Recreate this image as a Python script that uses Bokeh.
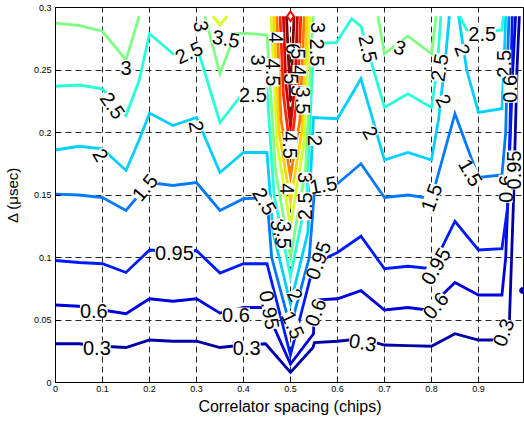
import math
from bokeh.plotting import figure
from bokeh.models import Range1d, FixedTicker, ColumnDataSource
from bokeh.embed import file_html
from bokeh.resources import INLINE
from bokeh.core.properties import value

NaN = float("nan")

# ---- data ----
x_ticks = [0, 0.1, 0.2, 0.3, 0.4, 0.5, 0.6, 0.7, 0.8, 0.9]
x_tick_labels = ["0", "0.1", "0.2", "0.3", "0.4", "0.5", "0.6", "0.7", "0.8", "0.9"]
y_ticks = [0, 0.05, 0.1, 0.15, 0.2, 0.25, 0.3]
y_tick_labels = ["0", "0.05", "0.1", "0.15", "0.2", "0.25", "0.3"]

levels = [0.3, 0.6, 0.95, 1.5, 2, 2.5, 3, 3.5, 4, 4.5, 5, 5.5, 6]

c03_x = [0, 0.05, 0.1, 0.15, 0.2, 0.25, 0.3, 0.35, 0.4, 0.447, 0.5, 0.548, 0.551, 0.6, 0.65, 0.7, 0.75, 0.8, 0.85, 0.9, 0.95, 0.966, 0.975, 0.982, 0.987]
c03_y = [0.031, 0.031, 0.029, 0.028, 0.034, 0.033, 0.033, 0.028, 0.030, 0.031, 0.008, 0.028, 0.032, 0.033, 0.035, 0.030, 0.0295, 0.029, 0.039, 0.034, 0.034, 0.05, 0.15, 0.25, 0.293]

c06_x = [0, 0.05, 0.1, 0.15, 0.2, 0.25, 0.3, 0.35, 0.4, 0.446, 0.5, 0.549, 0.551, 0.6, 0.65, 0.7, 0.75, 0.79, 0.85, 0.9, 0.95, 0.958, 0.966, 0.973, 0.979]
c06_y = [0.062, 0.061, 0.058, 0.055, 0.067, 0.065, 0.067, 0.0555, 0.060, 0.060, 0.0147, 0.039, 0.066, 0.067, 0.0735, 0.058, 0.060, 0.058, 0.080, 0.070, 0.070, 0.10, 0.18, 0.25, 0.293]

c095_x = [0, 0.05, 0.1, 0.15, 0.2, 0.25, 0.3, 0.35, 0.4, 0.45, 0.5, 0.55, 0.6, 0.65, 0.7, 0.75, 0.8, 0.85, 0.9, 0.95, 0.962, 0.967, 0.970, 0.972]
c095_y = [0.0976, 0.096, 0.095, 0.088, 0.106, 0.105, 0.1056, 0.0875, 0.095, 0.095, 0.022, 0.095, 0.104, 0.117, 0.091, 0.093, 0.091, 0.129, 0.106, 0.107, 0.14, 0.2, 0.26, 0.293]

c15_x = [0, 0.05, 0.1, 0.15, 0.2, 0.25, 0.3, 0.35, 0.4, 0.45, 0.46, 0.5, 0.54, 0.552, 0.6, 0.65, 0.7, 0.75, 0.8, 0.85, 0.9, 0.95, 0.958, 0.962, 0.965]
c15_y = [0.1507, 0.150, 0.148, 0.1376, 0.160, 0.1576, 0.160, 0.1376, 0.147, 0.148, 0.10, 0.044, 0.10, 0.158, 0.159, 0.175, 0.148, 0.150, 0.147, 0.215, 0.164, 0.166, 0.2, 0.26, 0.293]

c2_x = [0, 0.05, 0.1, 0.15, 0.178, 0.2, 0.25, 0.3, 0.35, 0.4, 0.45, 0.463, 0.5, 0.537, 0.549, 0.6, 0.65, 0.7, 0.75, 0.8, 0.815, 0.83, 0.838, NaN, 0.858, 0.875, 0.9, 0.95, 0.955, 0.958]
c2_y = [0.186, 0.189, 0.187, 0.1696, 0.194, 0.2155, 0.2056, 0.212, 0.168, 0.184, 0.184, 0.12, 0.063, 0.12, 0.212, 0.211, 0.243, 0.178, 0.184, 0.178, 0.21, 0.26, 0.293, NaN, 0.293, 0.25, 0.216, 0.219, 0.26, 0.293]

c25_x = [0, 0.05, 0.1, 0.15, 0.178, 0.2, 0.25, 0.3, 0.35, 0.4, 0.45, 0.465, 0.5, 0.535, 0.549, 0.598, 0.63, 0.65, 0.7, 0.75, 0.8, 0.812, 0.82, NaN, 0.86, 0.875, 0.9, 0.95, 0.953]
c25_y = [0.237, 0.238, 0.235, 0.2136, 0.2416, 0.279, 0.263, 0.27, 0.208, 0.232, 0.235, 0.15, 0.085, 0.15, 0.271, 0.272, 0.291, 0.285, 0.22, 0.231, 0.22, 0.25, 0.293, NaN, 0.293, 0.282, 0.28, 0.282, 0.293]

c3_x = [0, 0.05, 0.1, 0.15, 0.178, NaN, 0.318, 0.35, 0.382, 0.4, 0.45, 0.468, 0.5, 0.532, 0.548, NaN, 0.686, 0.7, 0.75, 0.8, 0.81]
c3_y = [0.2875, 0.2856, 0.281, 0.258, 0.293, NaN, 0.293, 0.247, 0.279, 0.2795, 0.278, 0.17, 0.10, 0.17, 0.293, NaN, 0.293, 0.263, 0.277, 0.263, 0.293]

c35_x = [0.335, 0.35, 0.365, NaN, 0.4587, 0.472, 0.5, 0.528, 0.5407]
c35_y = [0.293, 0.286, 0.293, NaN, 0.293, 0.19, 0.125, 0.19, 0.293]

c4_x = [0.4644, 0.476, 0.5, 0.524, 0.5355]
c4_y = [0.293, 0.2, 0.145, 0.2, 0.293]

c45_x = [0.4709, 0.48, 0.5, 0.52, 0.529]
c45_y = [0.293, 0.21, 0.165, 0.21, 0.293]

c5_x = [0.478, 0.485, 0.5, 0.515, 0.5218]
c5_y = [0.293, 0.23, 0.185, 0.23, 0.293]

c55_x = [0.485, 0.49, 0.5, 0.51, 0.5148]
c55_y = [0.293, 0.24, 0.205, 0.24, 0.293]

c6_x = [0.4915, 0.5, 0.5077]
c6_y = [0.293, 0.225, 0.293]

peak_x = [0.5]
peak_y = [0.293]
blob_x = [0.994]
blob_y = [0.0736]

label_text = ["3", "2.5", "2", "2.5", "2", "1.5", "0.95", "0.6", "0.6", "0.3", "0.3",
              "3", "3.5", "2.5", "2.5", "3.5", "0.95", "2", "1.5", "0.6", "0.95",
              "4", "4.5", "3", "6", "5", "4", "5", "5", "3.5", "2.5", "3",
              "4.5", "2", "3", "4", "2.5", "3.5",
              "2.5", "3", "2.5", "2", "2", "2.5", "2", "1.5", "1.5", "1.5",
              "0.95", "0.6", "0.3", "0.3", "0.6", "0.95", "2.5", "0.6"]
label_x = [0.15, 0.1215, 0.096, 0.284, 0.30, 0.19, 0.253, 0.0815, 0.384, 0.088, 0.407,
           0.31, 0.363, 0.42, 0.445, 0.478, 0.455, 0.51, 0.505, 0.553, 0.559,
           0.47, 0.462, 0.43, 0.506, 0.516, 0.519, 0.502, 0.516, 0.527, 0.557, 0.559,
           0.5, 0.553, 0.53, 0.492, 0.53, 0.486,
           0.665, 0.733, 0.817, 0.826, 0.866, 0.908, 0.67, 0.883, 0.57, 0.8,
           0.809, 0.809, 0.654, 0.953, 0.958, 0.976, 0.955, 0.968]
label_y = [0.252, 0.2216, 0.182, 0.264, 0.205, 0.156, 0.104, 0.0576, 0.0544, 0.028, 0.028,
           0.285, 0.275, 0.23, 0.145, 0.12, 0.058, 0.07, 0.046, 0.056, 0.0976,
           0.276, 0.248, 0.258, 0.267, 0.263, 0.2496, 0.243, 0.2336, 0.2256, 0.264, 0.284,
           0.19, 0.1936, 0.164, 0.155, 0.141, 0.118,
           0.267, 0.268, 0.252, 0.2256, 0.266, 0.279, 0.2, 0.168, 0.158, 0.148,
           0.093, 0.0616, 0.032, 0.04, 0.155, 0.17, 0.255, 0.235]
label_angle = [0, -55, -60, 25, -80, 50, 0, 0, 0, 0, 0,
               -80, -10, 0, -60, -75, -80, -60, -65, 70, 70,
               -90, -90, -90, -90, -90, -90, -90, -90, -90, -90, -90,
               -90, -90, -90, -90, 90, -90,
               -78, -20, 80, -60, -70, 0, -60, -60, 10, 70,
               60, 50, -10, 70, 90, 90, 90, 90]


def jet(v, lo=0.06, hi=5.96):
    t = min(max((v - lo) / (hi - lo), 0.0), 1.0)
    r = min(max(1.5 - abs(4 * t - 3), 0.0), 1.0)
    g = min(max(1.5 - abs(4 * t - 2), 0.0), 1.0)
    b = min(max(1.5 - abs(4 * t - 1), 0.0), 1.0)
    return "#%02x%02x%02x" % (int(r * 255), int(g * 255), int(b * 255))


p = figure(width=524, height=425, x_range=Range1d(0, 0.998), y_range=Range1d(0, 0.3),
           output_backend="svg", toolbar_location=None,
           min_border_left=52, min_border_right=0, min_border_top=7, min_border_bottom=43)
p.background_fill_color = "white"
p.border_fill_color = "white"
p.outline_line_color = "black"
p.outline_line_width = 1

for ax, ticks, labels in ((p.xaxis[0], x_ticks, x_tick_labels), (p.yaxis[0], y_ticks, y_tick_labels)):
    ax.ticker = FixedTicker(ticks=ticks)
    ax.major_label_overrides = {t: l for t, l in zip(ticks, labels)}
    ax.major_tick_in = 5
    ax.major_tick_out = 0
    ax.minor_tick_line_color = None
    ax.axis_line_color = "black"
    ax.major_tick_line_color = "black"
    ax.major_label_text_font = "Liberation Sans"
    ax.major_label_text_font_size = "9px"
    ax.major_label_text_color = "black"
    ax.axis_label_text_font = "Liberation Sans"
    ax.axis_label_text_font_style = "normal"
    ax.axis_label_text_color = "black"

p.xaxis.axis_label = "Correlator spacing (chips)"
p.xaxis.axis_label_text_font_size = "16px"
p.xaxis.major_label_standoff = 3
p.xaxis.axis_label_standoff = 3
p.yaxis.axis_label = "\u0394 (\u03bcsec)"
p.yaxis.axis_label_text_font_size = "15px"
p.yaxis.major_label_standoff = 4
p.yaxis.axis_label_standoff = 10

for g in (p.xgrid[0], p.ygrid[0]):
    g.grid_line_color = "black"
    g.grid_line_dash = "6 4"
    g.grid_line_width = 1
    g.grid_line_alpha = 0.85
p.xgrid.ticker = FixedTicker(ticks=x_ticks)
p.ygrid.ticker = FixedTicker(ticks=y_ticks)

series = [(c03_x, c03_y), (c06_x, c06_y), (c095_x, c095_y), (c15_x, c15_y), (c2_x, c2_y),
          (c25_x, c25_y), (c3_x, c3_y), (c35_x, c35_y), (c4_x, c4_y), (c45_x, c45_y),
          (c5_x, c5_y), (c55_x, c55_y), (c6_x, c6_y)]
for lev, (xs, ys) in zip(levels, series):
    p.line(xs, ys, line_color=jet(lev), line_width=2.8, line_join="miter")

p.scatter(blob_x, blob_y, marker="circle", size=6, fill_color=jet(0.3), line_color=jet(0.3))

src = ColumnDataSource(dict(x=label_x, y=label_y, text=label_text, angle=label_angle))
p.text(x="x", y="y", text="text", angle="angle", angle_units="deg", source=src,
       text_font=value("Liberation Sans"), text_font_size="20px", text_color="black",
       text_align="center", text_baseline="middle",
       background_fill_color="white", background_fill_alpha=1.0)

p.scatter(peak_x, peak_y, marker="diamond", size=10, fill_color="white", line_color="red", line_width=2)

open("out.html", "w").write(file_html(p, INLINE))
